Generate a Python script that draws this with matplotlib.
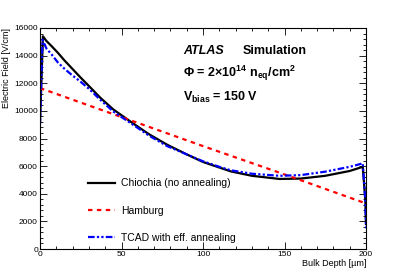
import matplotlib
matplotlib.use("Agg")
import matplotlib.pyplot as plt
from matplotlib.ticker import MultipleLocator

plt.rcParams['font.family'] = ['Liberation Sans', 'DejaVu Sans']
plt.rcParams['mathtext.fontset'] = 'custom'
plt.rcParams['mathtext.rm'] = 'Liberation Sans:bold'
plt.rcParams['mathtext.bf'] = 'Liberation Sans:bold'
plt.rcParams['mathtext.default'] = 'rm'

# Chiochia (no annealing)
depth_chiochia = [0, 1.8, 4, 7, 11, 15, 19, 25, 30, 37, 45, 57, 67, 78, 90, 100,
                  110, 117, 130, 147, 160, 175, 190, 198, 199.6, 200]
field_chiochia = [9200, 15400, 15050, 14700, 14200, 13650, 13150, 12400, 11800, 10950,
                  10100, 9100, 8300, 7550, 6850, 6300, 5900, 5620, 5300, 5070,
                  5100, 5300, 5650, 5950, 3500, 1800]

# Hamburg
depth_hamburg = [0, 50, 100, 150, 200]
field_hamburg = [11650, 9550, 7450, 5400, 3300]

# TCAD with eff. annealing
depth_tcad = [0, 1.5, 4, 7, 11, 15, 19, 25, 30, 37, 45, 57, 67, 78, 90, 100,
              110, 117, 130, 147, 160, 175, 190, 198, 199.6, 200]
field_tcad = [9000, 15150, 14500, 14100, 13500, 13050, 12650, 12100, 11600, 10800,
              9950, 9000, 8200, 7450, 6850, 6350, 5950, 5700, 5450, 5300,
              5350, 5600, 5950, 6200, 3500, 1500]

fig = plt.figure(figsize=(4.07, 2.77), dpi=100)
ax = fig.add_axes([0.0983, 0.101, 0.801, 0.798])

ax.plot(depth_chiochia, field_chiochia, color='black', lw=1.6,
        label='Chiochia (no annealing)')
ax.plot(depth_hamburg, field_hamburg, color='red', lw=1.6, ls=(0, (2, 2)),
        label='Hamburg')
ax.plot(depth_tcad, field_tcad, color='blue', lw=1.6,
        ls=(0, (3, 1, 1, 1, 1, 1)), label='TCAD with eff. annealing')

ax.set_xlim(0, 200)
ax.set_ylim(0, 16000)
ax.xaxis.set_major_locator(MultipleLocator(50))
ax.xaxis.set_minor_locator(MultipleLocator(10))
ax.yaxis.set_major_locator(MultipleLocator(2000))
ax.yaxis.set_minor_locator(MultipleLocator(400))
ax.tick_params(which='both', direction='in', top=True, right=True,
               labelsize=6, width=0.6, pad=1.5)
ax.tick_params(which='major', length=5)
ax.tick_params(which='minor', length=2.5)
for s in ax.spines.values():
    s.set_linewidth(0.8)

ax.set_xlabel('Bulk Depth [\u00b5m]', fontsize=6.5, loc='right', labelpad=1)
ax.set_ylabel('Electric Field [V/cm]', fontsize=6.5, loc='top', labelpad=2)

ax.legend(loc='lower left', bbox_to_anchor=(0.125, -0.005), frameon=False,
          fontsize=7.5, handlelength=2.6, handletextpad=0.6, labelspacing=1.65,
          borderpad=0.2)

fig.text(0.45, 0.815, 'ATLAS', fontsize=9, fontweight='bold', style='italic',
         va='center')
fig.text(0.597, 0.815, 'Simulation', fontsize=9, fontweight='bold', va='center')
fig.text(0.45, 0.735, '\u03a6 = 2\u00d710$^{14}$ n$_{eq}$/cm$^{2}$', fontsize=9,
         fontweight='bold', va='center')
fig.text(0.45, 0.648, 'V$_{bias}$ = 150 V', fontsize=9, fontweight='bold',
         va='center')

fig.savefig('out.png', dpi=100)
